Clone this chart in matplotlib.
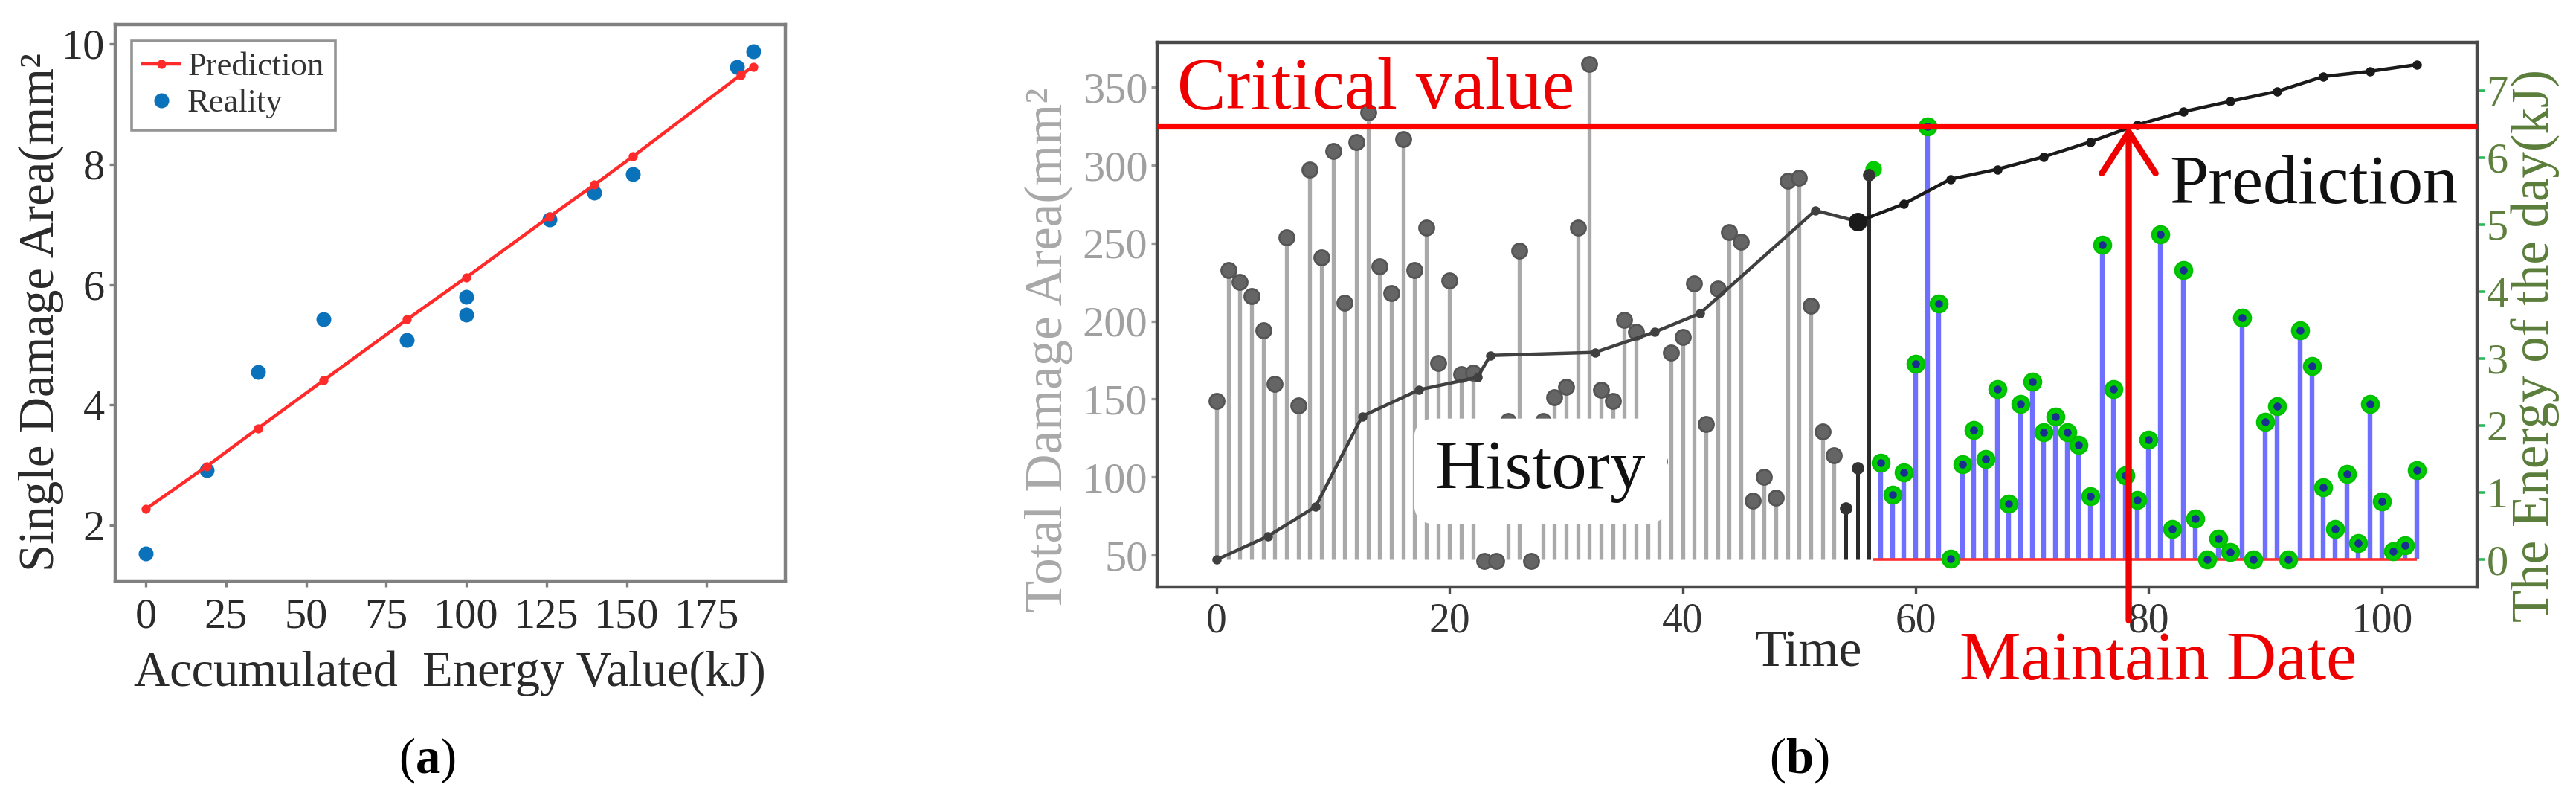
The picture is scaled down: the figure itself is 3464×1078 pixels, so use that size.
import numpy as np
import matplotlib
matplotlib.use('Agg')
import matplotlib.pyplot as plt

plt.rcParams['font.family'] = ['Liberation Serif', 'DejaVu Serif']
plt.rcParams['mathtext.fontset'] = 'custom'
plt.rcParams['mathtext.rm'] = 'Liberation Serif'
plt.rcParams['mathtext.bf'] = 'Liberation Serif:bold'

W, H = 3464, 1078

# ---- panel (a) data
energy_pred = [0, 19, 35, 55.5, 81.5, 100, 126, 140, 152, 185.5, 189.5]
area_pred = [2.27, 2.98, 3.61, 4.41, 5.42, 6.12, 7.13, 7.66, 8.13, 9.48, 9.62]
energy_real = [0, 19, 35, 55.5, 81.5, 100, 100, 126, 140, 152, 184.5, 189.5]
area_real = [1.53, 2.92, 4.55, 5.43, 5.08, 5.80, 5.50, 7.08, 7.53, 7.83, 9.62, 9.88]

# ---- panel (b) data
hist_time = list(range(0, 57))
hist_area = [149, 233, 225, 216, 194, 160, 254, 146, 297, 241,
             309, 212, 315, 334, 235, 218, 317, 233, 260, 173,
             226, 166, 167, 46, 46, 136, 245, 46, 136, 151,
             158, 260, 365, 156, 149, 201, 193, 110, 110, 180,
             190, 224, 134, 221, 257, 251, 85, 100, 87, 290,
             292, 210, 129, 114, 80, 106, 294]
dark_from = 54

cum_hist_time = [0, 4.4, 8.5, 12.5, 17.4, 22.4, 23.5, 32.5, 37.6, 41.5, 51.4, 55]
cum_hist_area = [47, 62, 81, 139, 156, 164, 178, 180, 193, 205, 271, 264]
cum_pred_time = [55, 59, 63, 67, 71, 75, 79, 83, 87, 91, 95, 99, 103]
cum_pred_area = [263.7, 275.2, 291.1, 297.4, 305.4, 315, 325.9, 334.4, 341,
                 347.3, 356.9, 360.2, 364.5]

day_time = list(range(57, 104))
day_energy = [1.45, 0.97, 1.30, 2.92, 6.46, 3.82, 0.01, 1.42, 1.94, 1.50,
              2.55, 0.84, 2.32, 2.66, 1.90, 2.13, 1.90, 1.71, 0.95, 4.70,
              2.55, 1.26, 0.89, 1.79, 4.85, 0.46, 4.32, 0.61, 0.0, 0.31,
              0.12, 3.61, 0.0, 2.06, 2.29, 0.0, 3.42, 2.89, 1.08, 0.46,
              1.28, 0.25, 2.32, 0.87, 0.13, 0.21, 1.34]
first_day_time, first_day_energy = 56.4, 5.83
zero_line_start = 56.3

critical_area = 325
maintain_time = 78.3
stem_base = 47
# right axis: area = energy_offset + energy_scale * energy
energy_offset, energy_scale = 47, 43

fig = plt.figure(figsize=(W / 200, H / 200), dpi=200)


def px_box(l, t, r, b):
    return [l / W, 1 - b / H, (r - l) / W, (b - t) / H]


# ================= panel (a)
ax = fig.add_axes(px_box(155, 33, 1056, 781))
ax.plot(energy_pred, area_pred, color='#ff2a2a', lw=1.6, marker='o', ms=3.4,
        label='Prediction', zorder=3)
ax.plot(energy_real, area_real, ls='none', marker='o', ms=6.2, color='#0a72ba',
        label='Reality', zorder=2)
ax.set_xlim(-9.5, 199.5)
ax.set_ylim(1.075, 10.32)
ax.set_xticks([0, 25, 50, 75, 100, 125, 150, 175])
ax.set_yticks([2, 4, 6, 8, 10])
for s in ax.spines.values():
    s.set_color('#808080')
    s.set_linewidth(1.6)
ax.tick_params(axis='both', colors='#808080', length=3, width=1.2,
               labelsize=21, labelcolor='#2a2a2a')
ax.tick_params(axis='x', pad=5)
ax.tick_params(axis='y', pad=2)
leg = ax.legend(loc='upper left', bbox_to_anchor=(0.024, 0.971), borderaxespad=0,
                fontsize=16, frameon=True, fancybox=False, handlelength=1.1,
                handletextpad=0.25, labelspacing=0.2, borderpad=0.35)
leg.get_frame().set_edgecolor('#7a7a7a')
leg.get_frame().set_linewidth(1.3)
for t in leg.get_texts():
    t.set_color('#333333')
fig.text(55 / W, 1 - 420 / H, 'Single Damage Area(mm²', rotation=90,
         ha='center', va='center', fontsize=24, color='#2a2a2a')
fig.text(605 / W, 1 - 905 / H, 'Accumulated  Energy Value(kJ)', ha='center',
         va='center', fontsize=24, color='#2a2a2a')

# ================= panel (b)
axb = fig.add_axes(px_box(1556, 57, 3331, 789))
ax2 = axb.twinx()
axb.set_zorder(ax2.get_zorder() + 1)
axb.patch.set_visible(False)

ylo, yhi = 29.5, 378.8
axb.set_xlim(-5.1, 108.2)
axb.set_ylim(ylo, yhi)
ax2.set_ylim((ylo - energy_offset) / energy_scale, (yhi - energy_offset) / energy_scale)

# history stems
light_t = [t for t in hist_time if t < dark_from]
light_v = hist_area[:len(light_t)]
dark_t = hist_time[len(light_t):]
dark_v = hist_area[len(light_t):]
axb.vlines(light_t, stem_base, light_v, color='#a9a9a9', lw=1.9, zorder=2)
axb.plot(light_t, light_v, ls='none', marker='o', ms=7.2, color='#656565',
         mec='#555555', zorder=3)
axb.vlines(dark_t, stem_base, dark_v, color='#2a2a2a', lw=1.8, zorder=2)
axb.plot(dark_t, dark_v, ls='none', marker='o', ms=5, color='#333333', zorder=3)

# daily energy stems (right axis)
ax2.vlines(day_time, 0, day_energy, color='#6e6eff', lw=2.3, zorder=2)
ax2.hlines(0, zero_line_start, day_time[-1], color='#ff3030', lw=1.3, zorder=3)
ax2.plot(day_time, day_energy, ls='none', marker='o', ms=8.2, color='#00cc00',
         mec='#00c000', zorder=4)
ax2.plot(day_time, day_energy, ls='none', marker='o', ms=2.8, color='#1a3090',
         zorder=5)
ax2.plot([first_day_time], [first_day_energy], ls='none', marker='o', ms=7,
         color='#00cc00', zorder=1)

# cumulative damage
axb.plot(cum_hist_time, cum_hist_area, color='#404040', lw=1.6, marker='o',
         ms=3.5, zorder=4)
axb.plot(cum_hist_time[-1:], cum_hist_area[-1:], ls='none', marker='o', ms=8,
         color='#1a1a1a', zorder=4)
axb.plot(cum_pred_time, cum_pred_area, color='#1a1a1a', lw=1.6, marker='o',
         ms=3.5, zorder=4)

# critical value and maintenance arrow
axb.axhline(critical_area, color='#ff0000', lw=2.6, zorder=5)
axb.annotate('', xy=(maintain_time, critical_area), xytext=(maintain_time, 8),
             annotation_clip=False, zorder=6,
             arrowprops=dict(arrowstyle='->,head_length=1.0,head_width=0.65',
                             mutation_scale=20, color='#ee0000', lw=3.0,
                             shrinkA=0, shrinkB=0))

axb.text(-3.4, 336.5, 'Critical value', color='#ee0000', fontsize=35.5,
         va='baseline', ha='left', zorder=6)
axb.text(81.8, 275.9, 'Prediction', color='#111111', fontsize=34,
         va='baseline', ha='left', zorder=6)
axb.text(27.8, 103.7, 'History', color='#111111', fontsize=34, ha='center',
         va='center', zorder=5,
         bbox=dict(boxstyle='round,pad=0.3', facecolor='white', edgecolor='none'))

axb.set_xticks([0, 20, 40, 60, 80, 100])
axb.set_yticks([50, 100, 150, 200, 250, 300, 350])
ax2.set_yticks(range(0, 8))
for s in axb.spines.values():
    s.set_color('#4a4a4a')
    s.set_linewidth(1.6)
for s in ax2.spines.values():
    s.set_visible(False)
axb.tick_params(axis='x', colors='#4a4a4a', length=3.2, width=1.2, labelsize=20,
                labelcolor='#333333', pad=4)
axb.tick_params(axis='y', colors='#9a9a9a', length=3, width=1.2, labelsize=21,
                labelcolor='#a0a0a0', pad=1.5)
ax2.tick_params(axis='y', colors='#2fb85a', length=4, width=1.3, labelsize=21,
                labelcolor='#5e7f3e', pad=0.5)

fig.text(1410 / W, 1 - 470 / H, 'Total Damage Area(mm²', rotation=90,
         ha='center', va='center', fontsize=25.5, color='#a8a8a8')
fig.text(3410 / W, 1 - 465 / H, 'The Energy of the day(kJ)', rotation=90,
         ha='center', va='center', fontsize=25.5, color='#5a7d3a')
fig.text(2432 / W, 1 - 896 / H, 'Time', ha='center', va='baseline',
         fontsize=25, color='#2a2a2a')
fig.text(2635 / W, 1 - 913 / H, 'Maintain Date', ha='left', va='baseline',
         fontsize=33.5, color='#ee0000')

# panel captions
fig.text(574 / W, 1 - 1022 / H, r'($\mathbf{a}$)', ha='center', va='center',
         fontsize=24, color='black')
fig.text(2419 / W, 1 - 1022 / H, r'($\mathbf{b}$)', ha='center', va='center',
         fontsize=24, color='black')

fig.savefig('out.png', dpi=200)
